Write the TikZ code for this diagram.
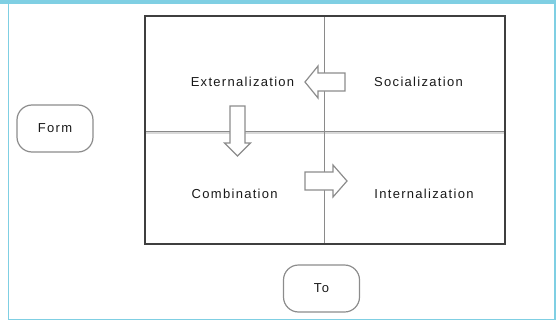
\documentclass[tikz,border=0pt]{standalone}
\usepackage{fontspec}
\newfontfamily\lab{Liberation Sans}[LetterSpace=10]
\definecolor{framec}{HTML}{7FCFE3}
\definecolor{boxc}{HTML}{3F3F3F}
\definecolor{divc}{HTML}{8A8A8A}
\definecolor{shapec}{HTML}{8C8C8C}
\begin{document}
\begin{tikzpicture}[x=1pt,y=-1pt,
  lbl/.style={font=\lab\fontsize{13}{15}\selectfont, inner sep=0pt, text=black!90},
  term/.style={draw=shapec, line width=1.2pt, rounded corners=15pt, minimum width=76pt, minimum height=47pt, inner sep=0pt, font=\lab\fontsize{13}{15}\selectfont, text=black!90},
  blk/.style={draw=shapec, line width=1.2pt, fill=white, line join=miter}]
\useasboundingbox (0,0) rectangle (556,321);
% frame
\fill[framec] (0,0) rectangle (556,4);
\draw[framec, line width=1.3pt] (8.5,4) -- (8.5,319.6) -- (555,319.6) -- (555,4);
% matrix
\coordinate (tl) at (145,16);
\coordinate (br) at (505,244);
\coordinate (vt) at (324.5,16);
\coordinate (vb) at (324.5,244);
\coordinate (hl) at (145,131.5);
\coordinate (hr) at (505,131.5);
\draw[black!15, line width=1.8pt] (145,133.2) -- (505,133.2);
\draw[divc, line width=1.4pt] (vt) -- (vb);
\draw[divc, line width=1.8pt] (hl) -- (hr);
\draw[boxc, line width=2pt] (tl) rectangle (br);
% labels
\node[lbl] (ext) at (242.5,82) {Externalization};
\node[lbl] (soc) at (418.5,82) {Socialization};
\node[lbl] (com) at (234.7,194) {Combination};
\node[lbl] (int) at (424,194) {Internalization};
% block arrows
\draw[blk] (345,73) -- (318,73) -- (318,66) -- (305,82) -- (318,98) -- (318,91) -- (345,91) -- cycle;
\draw[blk] (230,106) -- (245,106) -- (245,143) -- (250.5,143) -- (237.5,156) -- (224.5,143) -- (230,143) -- cycle;
\draw[blk] (305,172) -- (333,172) -- (333,165) -- (347,181) -- (333,197) -- (333,190) -- (305,190) -- cycle;
% terminals
\node[term] (form) at (55,128.5) {Form};
\node[term] (to) at (321.5,288.5) {To};
\end{tikzpicture}
\end{document}
